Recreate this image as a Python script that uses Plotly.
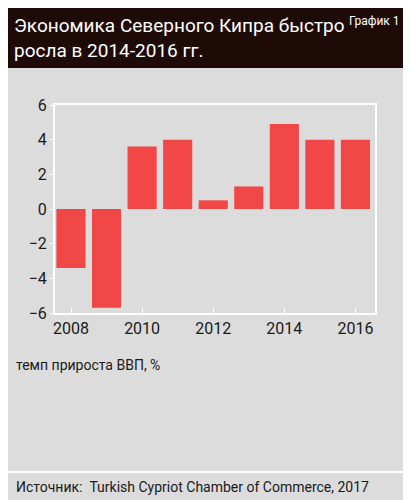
import plotly.graph_objects as go

years = [2008, 2009, 2010, 2011, 2012, 2013, 2014, 2015, 2016]
growth = [-3.4, -5.7, 3.6, 4.0, 0.5, 1.3, 4.9, 4.0, 4.0]
tick_years = [2008, 2010, 2012, 2014, 2016]
y_ticks = [-6, -4, -2, 0, 2, 4, 6]

FONT = "Roboto, sans-serif"

fig = go.Figure(go.Bar(x=years, y=growth, width=0.82, marker=dict(color="#f24747", line_width=0)))

fig.update_layout(
    width=403, height=492,
    paper_bgcolor="#dcdcdc", plot_bgcolor="#dcdcdc",
    margin=dict(l=47, r=36, t=97, b=187),
    font=dict(family=FONT, color="#1a1a1a", size=15),
    showlegend=False,
    xaxis=dict(range=[2007.55, 2016.55], tickvals=tick_years, showgrid=False, zeroline=False,
               showline=True, linecolor="white", linewidth=2, mirror=True,
               ticks="inside", ticklen=5, tickcolor="white", tickfont=dict(size=16)),
    yaxis=dict(range=[-6, 6], tickvals=y_ticks, showgrid=False, zeroline=False,
               showline=True, linecolor="white", linewidth=2, mirror=True,
               ticks="outside", ticklen=3, tickcolor="white", tickfont=dict(size=16)),
    shapes=[
        dict(type="rect", xref="paper", yref="paper", x0=-0.2, x1=1.2, y0=1.178, y1=1.6,
             fillcolor="#1e0b08", line_width=0, layer="below"),
        dict(type="line", xref="paper", yref="paper", x0=-0.2, x1=1.2, y0=-0.764, y1=-0.764,
             line=dict(color="white", width=2)),
    ],
    annotations=[
        dict(text="Экономика Северного Кипра быстро<br>росла в 2014-2016 гг.", xref="paper", yref="paper",
             x=-0.134, y=1.445, xanchor="left", yanchor="top", showarrow=False, align="left",
             font=dict(size=19, color="white", family=FONT)),
        dict(text="График 1", xref="paper", yref="paper", x=1.084, y=1.445, xanchor="right", yanchor="top",
             showarrow=False, font=dict(size=12, color="white", family=FONT)),
        dict(text="темп прироста ВВП, %", xref="paper", yref="paper", x=-0.128, y=-0.2,
             xanchor="left", yanchor="top", showarrow=False, font=dict(size=14, family=FONT)),
        dict(text="Источник:  Turkish Cypriot Chamber of Commerce, 2017", xref="paper", yref="paper",
             x=-0.128, y=-0.79, xanchor="left", yanchor="top", showarrow=False, font=dict(size=14, family=FONT)),
    ],
)

fig.write_html("out.html")
